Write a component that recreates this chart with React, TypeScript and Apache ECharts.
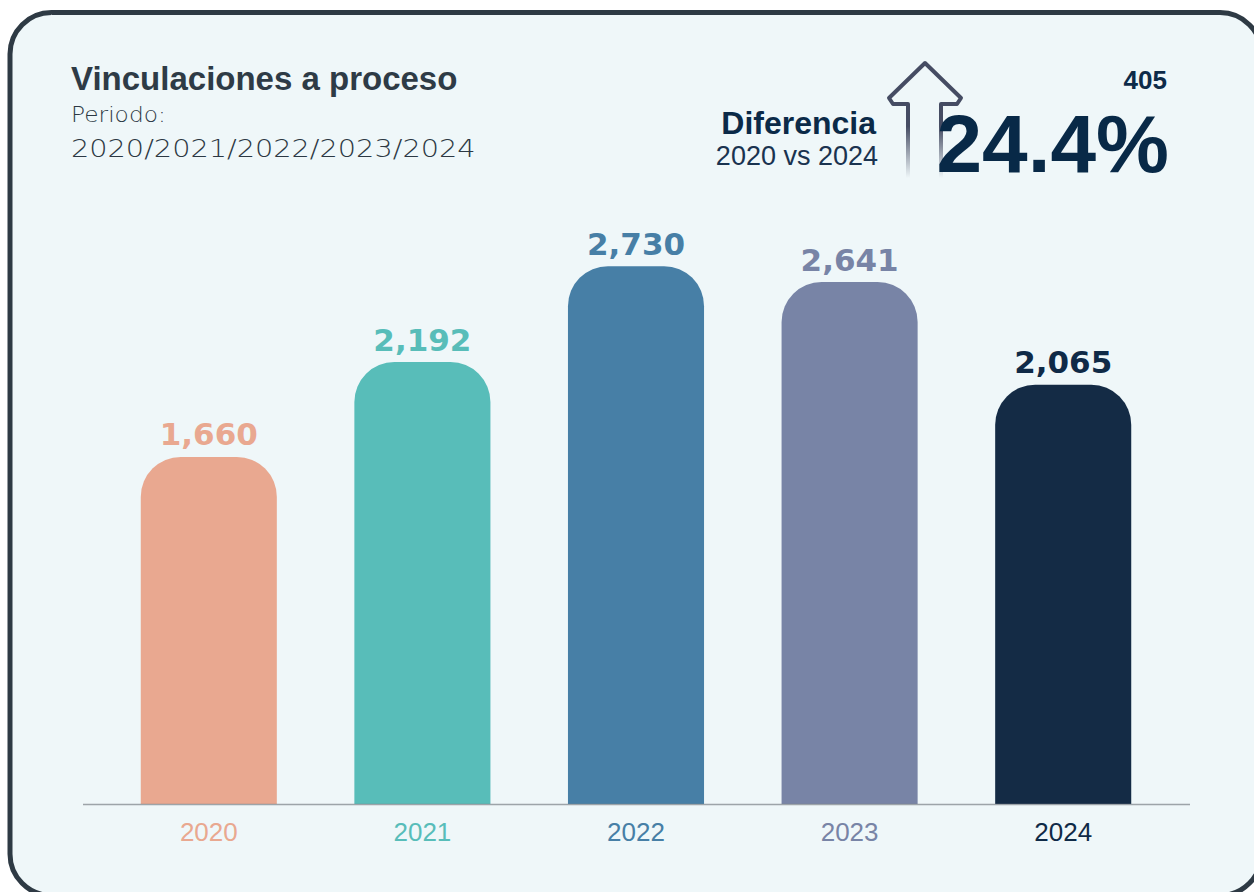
import React, { useEffect, useRef } from 'react';
import * as echarts from 'echarts';

const years = ['2020', '2021', '2022', '2023', '2024'];
const values = [1660, 2192, 2730, 2641, 2065];
const barColors = ['#e9a890', '#58bdb9', '#477fa6', '#7884a6', '#142b45'];
const labelColors = ['#e9a890', '#58bdb9', '#477fa6', '#7884a6', '#0f2a47'];
const titleText = 'Vinculaciones a proceso';
const periodLabel = 'Periodo:';
const periodYears = years.join('/');
const diffTitle = 'Diferencia';
const diffSub = `${years[0]} vs ${years[years.length - 1]}`;
const diffAbs = values[values.length - 1] - values[0];
const diffPct = ((diffAbs / values[0]) * 100).toFixed(1) + '%';

const Y_MIN = -287;
const Y_MAX = 3000;

const fmt = (v: number) => v.toLocaleString('en-US');

export default function App() {
  const ref = useRef<HTMLDivElement>(null);

  useEffect(() => {
    if (!ref.current) return;
    const chart = echarts.init(ref.current, undefined, { renderer: 'svg' });

    const arrowStroke = new echarts.graphic.LinearGradient(0, 0, 0, 1, [
      { offset: 0, color: 'rgba(69,76,99,1)' },
      { offset: 0.55, color: 'rgba(69,76,99,1)' },
      { offset: 1, color: 'rgba(69,76,99,0)' },
    ]);

    const option: any = {
      animation: false,
      backgroundColor: 'transparent',
      grid: { left: 102, right: 84, top: 218, bottom: 88, containLabel: false },
      xAxis: {
        type: 'category',
        data: years,
        axisLine: { show: false },
        axisTick: { show: false },
        splitLine: { show: false },
        axisLabel: {
          margin: 15,
          fontSize: 26,
          lineHeight: 26,
          fontFamily: '"Liberation Sans", Arial, sans-serif',
          color: (_v: any, i: number) => labelColors[i],
        },
      },
      yAxis: {
        type: 'value',
        min: Y_MIN,
        max: Y_MAX,
        show: false,
        splitLine: { show: false },
      },
      series: [
        {
          type: 'custom',
          encode: { x: 0, y: 1 },
          data: values.map((v, i) => [i, v]),
          renderItem: (_params: any, api: any) => {
            const idx = api.value(0);
            const v = api.value(1);
            const top = api.coord([idx, v]);
            const base = api.coord([idx, Y_MIN]);
            const band = api.size([1, 0])[0];
            const w = band * 0.637;
            return {
              type: 'group',
              children: [
                {
                  type: 'rect',
                  shape: { x: top[0] - w / 2, y: top[1], width: w, height: base[1] - top[1], r: [40, 40, 0, 0] },
                  style: { fill: barColors[idx] },
                },
                {
                  type: 'text',
                  x: top[0],
                  y: top[1] - 7,
                  style: {
                    text: fmt(v),
                    fill: labelColors[idx],
                    font: 'bold 31px "DejaVu Sans", sans-serif',
                    lineHeight: 31,
                    align: 'center',
                    verticalAlign: 'bottom',
                  },
                },
              ],
            };
          },
        },
      ],
      graphic: [
        {
          type: 'rect',
          z: -10,
          silent: true,
          shape: { x: 10, y: 12.5, width: 1251.5, height: 883, r: 41.5 },
          style: { fill: '#eff7f9', stroke: '#2e3a44', lineWidth: 5 },
        },
        {
          type: 'line',
          z: 100,
          silent: true,
          shape: { x1: 83, y1: 804.5, x2: 1190, y2: 804.5 },
          style: { stroke: 'rgba(130,136,142,0.75)', lineWidth: 1.4 },
        },
        {
          type: 'text',
          x: 71,
          y: 78,
          style: {
            text: titleText,
            font: 'bold 33px "Liberation Sans", Arial, sans-serif',
            fill: '#2e3b46',
            lineHeight: 33,
            align: 'left',
            verticalAlign: 'middle',
          },
        },
        {
          type: 'text',
          x: 71,
          y: 114.5,
          scaleX: 1.06,
          style: {
            text: periodLabel,
            font: '300 22px "DejaVu Sans", sans-serif',
            fill: '#2c3843',
            lineHeight: 22,
            align: 'left',
            verticalAlign: 'middle',
          },
        },
        {
          type: 'text',
          x: 71,
          y: 148,
          scaleX: 1.15,
          style: {
            text: periodYears,
            font: '300 25px "DejaVu Sans", sans-serif',
            fill: '#2c3843',
            lineHeight: 25,
            align: 'left',
            verticalAlign: 'middle',
          },
        },
        {
          type: 'text',
          x: 876,
          y: 122.5,
          style: {
            text: diffTitle,
            font: 'bold 32px "Liberation Sans", Arial, sans-serif',
            fill: '#0b2a48',
            lineHeight: 32,
            align: 'right',
            verticalAlign: 'middle',
          },
        },
        {
          type: 'text',
          x: 878,
          y: 155.5,
          style: {
            text: diffSub,
            font: '27px "Liberation Sans", Arial, sans-serif',
            fill: '#1a3350',
            lineHeight: 27,
            align: 'right',
            verticalAlign: 'middle',
          },
        },
        {
          type: 'polyline',
          silent: true,
          shape: {
            points: [
              [908, 178],
              [908, 104],
              [893, 104],
              [889, 98],
              [925, 63],
              [961, 98],
              [957, 104],
              [941, 104],
              [941, 178],
            ],
          },
          style: { stroke: arrowStroke, lineWidth: 4, fill: 'none', lineJoin: 'round', lineCap: 'butt' },
        },
        {
          type: 'text',
          x: 1167,
          y: 80,
          style: {
            text: String(diffAbs),
            font: 'bold 26px "Liberation Sans", Arial, sans-serif',
            fill: '#0d2b49',
            lineHeight: 24,
            align: 'right',
            verticalAlign: 'middle',
          },
        },
        {
          type: 'text',
          x: 1169,
          y: 143,
          style: {
            text: diffPct,
            font: 'bold 82px "Liberation Sans", Arial, sans-serif',
            fill: '#082947',
            lineHeight: 64,
            align: 'right',
            verticalAlign: 'middle',
          },
        },
      ],
    };

    chart.setOption(option);
    return () => {
      chart.dispose();
    };
  }, []);

  return (
    <div
      ref={ref}
      style={{ position: 'fixed', left: 0, top: 0, width: 1254, height: 892, background: '#ffffff' }}
    />
  );
}
